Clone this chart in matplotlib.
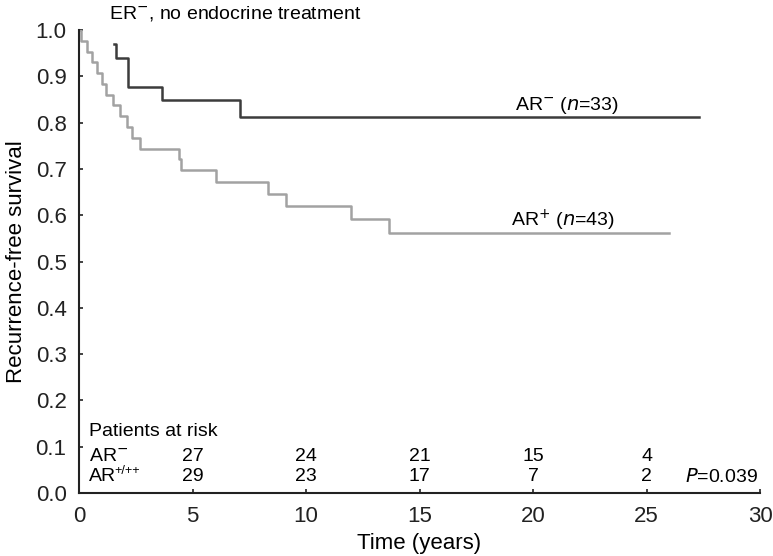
import numpy as np
import matplotlib
matplotlib.use("Agg")
import matplotlib.pyplot as plt
from matplotlib.transforms import offset_copy

plt.rcParams['font.family'] = ['Liberation Sans', 'DejaVu Sans']

# AR- curve (time in years, survival)
t_neg = [1.55, 1.62, 2.14, 3.64, 7.1, 27.3]
s_neg = [0.970, 0.939, 0.878, 0.848, 0.813, 0.813]

# AR+ curve
t_pos = [0.0, 0.08, 0.37, 0.59, 0.81, 1.0, 1.19, 1.5, 1.8, 2.1, 2.35, 2.67,
         4.42, 4.5, 6.03, 8.33, 9.14, 12.0, 13.65, 26.0]
s_pos = [1.0, 0.977, 0.953, 0.930, 0.907, 0.884, 0.860, 0.837, 0.814, 0.791,
         0.767, 0.744, 0.721, 0.697, 0.672, 0.646, 0.619, 0.592, 0.562, 0.562]

risk_times = [5, 10, 15, 20, 25]
risk_neg = [27, 24, 21, 15, 4]
risk_pos = [29, 23, 17, 7, 2]

fs = 14
fig = plt.figure(figsize=(7.73, 5.56), dpi=100)
ax = fig.add_axes([0.1022, 0.1133, 0.881, 0.8327])

ax.step(t_pos, s_pos, where='post', color='#a2a2a2', lw=1.8)
ax.step(t_neg, s_neg, where='post', color='#3c3c3c', lw=1.8)

ax.set_xlim(0, 30)
ax.set_ylim(0, 1.0)
ax.set_xticks(np.arange(0, 31, 5))
ax.set_yticks(np.arange(0, 1.01, 0.1))
ax.set_yticklabels(['%.1f' % v for v in np.arange(0, 1.01, 0.1)])
for side in ['top', 'right']:
    ax.spines[side].set_visible(False)
for side in ['left', 'bottom']:
    ax.spines[side].set_linewidth(1.5)
    ax.spines[side].set_color('#222222')
ax.tick_params(direction='in', length=3, width=1.2, labelsize=16,
               colors='#222222', pad=9)
ax.set_xlabel('Time (years)', fontsize=16, labelpad=5)
ax.set_ylabel('Recurrence-free survival', fontsize=16, labelpad=6)

ax.text(1.3, 1.035, 'ER$^{-}$, no endocrine treatment', fontsize=fs,
        va='center', ha='left', clip_on=False)
ax.text(21.5, 0.838, r'AR$^{-}$ ($\it{n}$=33)', fontsize=fs, ha='center', va='center')
ax.text(21.3, 0.588, r'AR$^{+}$ ($\it{n}$=43)', fontsize=fs, ha='center', va='center')

ax.text(0.45, 0.132, 'Patients at risk', fontsize=fs, va='center')
ax.text(0.45, 0.078, 'AR$^{-}$', fontsize=fs, va='center')
t_ar = ax.text(0.45, 0.035, 'AR', fontsize=fs, va='center')
fig.canvas.draw()
w = t_ar.get_window_extent().width * 72 / fig.dpi
ax.text(0.45, 0.035, '+/++', fontsize=fs * 0.65, va='bottom',
        transform=offset_copy(ax.transData, fig=fig, x=w - 1.5, y=0, units='points'))
for x, a, b in zip(risk_times, risk_neg, risk_pos):
    ax.text(x, 0.078, str(a), fontsize=fs, ha='center', va='center')
    ax.text(x, 0.035, str(b), fontsize=fs, ha='center', va='center')
ax.text(29.9, 0.035, r'$\it{P}$=0.039', fontsize=fs, ha='right', va='center')

fig.savefig('out.png', dpi=100)
